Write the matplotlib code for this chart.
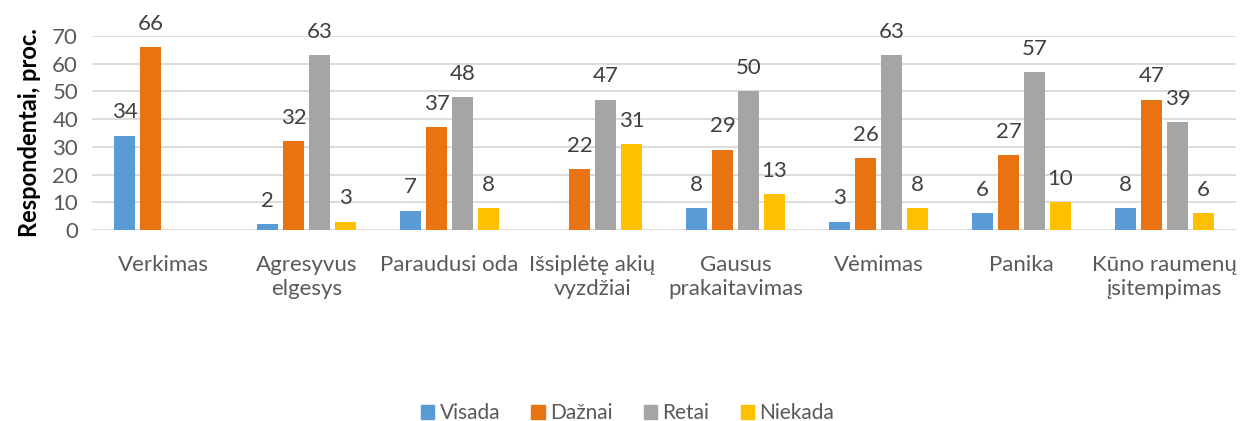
import numpy as np
import matplotlib.pyplot as plt
from matplotlib.patches import Patch

plt.rcParams['font.family'] = ['Lato', 'DejaVu Sans']

categories = ['Verkimas', 'Agresyvus\nelgesys', 'Paraudusi oda', 'Išsiplėtę akių\nvyzdžiai',
              'Gausus\nprakaitavimas', 'Vėmimas', 'Panika', 'Kūno raumenų\nįsitempimas']
series = ['Visada', 'Dažnai', 'Retai', 'Niekada']
visada = [34, 2, 7, None, 8, 3, 6, 8]
daznai = [66, 32, 37, 22, 29, 26, 27, 47]
retai = [None, 63, 48, 47, 50, 63, 57, 39]
niekada = [None, 3, 8, 31, 13, 8, 10, 6]
colors = ['#5B9BD5', '#E97211', '#A5A5A5', '#FFC000']

fig = plt.figure(figsize=(12.55, 4.21), dpi=100)
ax = fig.add_axes([92 / 1255, 1 - 230 / 421, 1144 / 1255, 194 / 421])

x = np.arange(len(categories))
slot = 0.182
width = 0.147
for i, vals in enumerate([visada, daznai, retai, niekada]):
    pos = x + (i - 1.5) * slot
    for p, v in zip(pos, vals):
        if v is None:
            continue
        ax.bar(p, v, width=width, color=colors[i], zorder=3)
        ax.text(p, v + 4.8, str(v), ha='center', va='bottom', fontsize=16, color='#404040')

ax.set_xlim(-0.5, len(categories) - 0.5)
ax.set_ylim(0, 70)
ax.set_yticks(range(0, 71, 10))
ax.yaxis.grid(True, color='#D9D9D9', linewidth=1.3, zorder=0)
ax.set_axisbelow(True)
for s in ax.spines.values():
    s.set_visible(False)
ax.tick_params(axis='both', length=0, colors='#595959', labelsize=16)
ax.tick_params(axis='y', pad=10)
ax.tick_params(axis='x', pad=18)
ax.set_xticks(x)
ax.set_xticklabels(categories, linespacing=1.25)
ax.set_ylabel('Respondentai, proc.', fontsize=17, fontweight='bold', color='#000000', labelpad=8)

handles = [Patch(color=c, label=n) for c, n in zip(colors, series)]
fig.legend(handles=handles, loc='lower center', ncol=4, frameon=False, fontsize=15,
           bbox_to_anchor=(0.5, -0.05), handlelength=0.65, handleheight=0.65,
           handletextpad=0.25, columnspacing=1.5, labelcolor='#595959')

fig.savefig('out.png', dpi=100)
